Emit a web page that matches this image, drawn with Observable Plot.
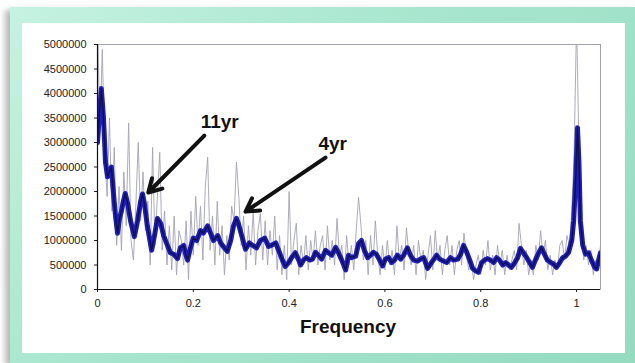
<!DOCTYPE html>
<html>
<head>
<meta charset="utf-8">
<script src="https://cdn.jsdelivr.net/npm/d3@7"></script>
<script src="https://cdn.jsdelivr.net/npm/@observablehq/plot@0.6"></script>
<style>
  html, body { margin: 0; padding: 0; background: #ffffff; }
  #page { position: relative; width: 635px; height: 363px; overflow: hidden; background: #fff; }
  #frame {
    position: absolute; left: 10px; top: 7px; width: 625px; height: 356px;
    background: linear-gradient(135deg, #c6f2e2 0%, #a9e7cf 40%, #94dbc0 100%);
    box-shadow: -5px 3px 6px rgba(0,0,0,0.28);
  }
  #inner { position: absolute; left: 22px; top: 23px; width: 603px; height: 330px; background: #fff; }
  #chart { position: absolute; left: 0; top: 0; }
  #xlabel {
    position: absolute; left: 0; width: 652px; top: 293px; text-align: center;
    font-family: "Liberation Sans", Arial, sans-serif; font-weight: bold; font-size: 19px; color: #111;
  }
</style>
</head>
<body>
<div id="page">
  <div id="frame"></div>
  <div id="inner"><div id="chart"></div><div id="xlabel">Frequency</div></div>
</div>
<script>
// Raw periodogram, regular frequency grid
const rawStart = 0;
const rawStep = 0.005;
const rawPowerM = [
  5.5, 3.2, 4.9, 2.8, 1.9, 3.5, 1.6, 2.9, 0.9, 2.1,
  0.8, 2.4, 1.3, 3.4, 1.0, 0.6, 1.7, 3.0, 1.4, 2.4,
  1.2, 1.8, 0.5, 2.9, 0.9, 1.9, 2.8, 0.8, 1.6, 0.5,
  1.3, 0.4, 1.5, 0.3, 1.2, 1.0, 0.5, 1.4, 0.2, 1.6,
  0.7, 1.9, 0.9, 1.7, 0.6, 2.1, 2.7, 0.8, 1.5, 0.5,
  1.8, 0.7, 1.3, 0.3, 1.1, 0.6, 1.7, 1.4, 2.6, 1.9,
  0.9, 1.5, 0.4, 1.3, 0.7, 1.6, 0.5, 1.2, 1.55, 0.6,
  1.4, 0.5, 1.2, 0.7, 1.5, 0.4, 1.1, 0.3, 0.9, 0.2,
  2.0, 0.5, 1.0, 1.35, 0.3, 0.9, 0.5, 1.1, 0.4, 1.0,
  0.6, 1.2, 0.5, 0.9, 1.1, 0.4, 1.3, 0.6, 1.0, 0.5,
  1.45, 0.7, 0.9, 0.2, 1.1, 0.5, 0.9, 0.4, 1.2, 1.88,
  1.3, 0.6, 1.0, 0.3, 1.1, 0.5, 1.4, 0.7, 0.3, 0.9,
  0.4, 1.0, 0.5, 0.8, 0.3, 1.3, 0.6, 0.9, 0.4, 1.26,
  0.7, 0.5, 0.9, 0.3, 1.0, 0.6, 0.8, 0.2, 0.7, 1.1,
  0.4, 1.2, 0.6, 0.9, 0.3, 0.8, 1.1, 0.5, 0.9, 0.3,
  0.8, 1.0, 0.5, 1.15, 0.7, 0.4, 0.6, 0.2, 0.5, 0.7,
  0.3, 0.8, 0.5, 1.0, 0.4, 0.7, 0.3, 0.9, 0.5, 0.8,
  0.3, 0.7, 0.4, 0.6, 0.8, 0.4, 1.35, 0.9, 0.5, 0.8,
  0.3, 0.6, 0.3, 0.9, 0.6, 1.2, 0.7, 1.0, 0.4, 0.7,
  0.3, 0.6, 0.4, 0.9, 1.0, 0.6, 1.1, 0.9, 1.6, 2.8,
  5.5, 2.9, 1.2, 0.6, 0.9, 0.5, 0.8, 0.3, 0.6, 0.4,
  0.9
];

// Smoothed spectrum
const smoothFreq = [
  0, 0.004, 0.008, 0.0125, 0.0167, 0.0209, 0.025, 0.029, 0.033, 0.0376,
  0.0418, 0.046, 0.050, 0.054, 0.058, 0.063, 0.069, 0.077, 0.0835, 0.090,
  0.094, 0.098, 0.104, 0.113, 0.119, 0.125, 0.132, 0.138, 0.146, 0.152,
  0.159, 0.167, 0.173, 0.180, 0.184, 0.188, 0.194, 0.200, 0.207, 0.215,
  0.221, 0.230, 0.236, 0.242, 0.251, 0.257, 0.265, 0.271, 0.278, 0.284,
  0.290, 0.294, 0.301, 0.309, 0.317, 0.324, 0.332, 0.340, 0.349, 0.357,
  0.363, 0.372, 0.380, 0.386, 0.392, 0.399, 0.405, 0.413, 0.420, 0.424,
  0.430, 0.436, 0.443, 0.449, 0.455, 0.461, 0.468, 0.476, 0.482, 0.489,
  0.497, 0.503, 0.509, 0.518, 0.524, 0.530, 0.539, 0.545, 0.551, 0.557,
  0.564, 0.570, 0.576, 0.582, 0.589, 0.595, 0.601, 0.608, 0.614, 0.620,
  0.626, 0.633, 0.639, 0.647, 0.653, 0.660, 0.668, 0.674, 0.681, 0.689,
  0.695, 0.701, 0.708, 0.714, 0.722, 0.729, 0.737, 0.743, 0.752, 0.758,
  0.764, 0.770, 0.777, 0.783, 0.789, 0.795, 0.802, 0.808, 0.814, 0.820,
  0.827, 0.833, 0.839, 0.846, 0.852, 0.858, 0.864, 0.871, 0.877, 0.883,
  0.889, 0.896, 0.902, 0.908, 0.914, 0.921, 0.927, 0.933, 0.939, 0.946,
  0.952, 0.958, 0.965, 0.971, 0.977, 0.983, 0.990, 0.994, 0.998, 1.002,
  1.005, 1.008, 1.013, 1.019, 1.025, 1.031, 1.038, 1.042, 1.046, 1.050
];
const smoothPowerM = [
  3.0, 3.6, 4.1, 3.5, 2.6, 2.3, 2.4, 2.5, 2.0, 1.5,
  1.15, 1.45, 1.6, 1.8, 1.96, 1.75, 1.4, 1.08, 1.4, 1.8,
  1.95, 1.75, 1.3, 0.8, 1.1, 1.45, 1.35, 1.1, 0.9, 0.75,
  0.72, 0.63, 0.85, 0.9, 0.72, 0.6, 0.85, 1.05, 1.0, 1.2,
  1.15, 1.3, 1.15, 1.0, 1.1, 0.95, 0.85, 0.78, 1.0, 1.3,
  1.45, 1.35, 1.1, 0.82, 0.95, 0.9, 0.85, 1.0, 1.05, 0.88,
  0.9, 0.95, 0.75, 0.6, 0.47, 0.55, 0.65, 0.75, 0.6, 0.5,
  0.6, 0.65, 0.6, 0.62, 0.76, 0.7, 0.62, 0.8, 0.75, 0.7,
  0.86, 0.75, 0.62, 0.4, 0.7, 0.65, 0.68, 0.94, 1.0, 0.8,
  0.65, 0.7, 0.76, 0.72, 0.6, 0.48, 0.62, 0.65, 0.55, 0.6,
  0.7, 0.62, 0.7, 0.85, 0.7, 0.6, 0.58, 0.62, 0.65, 0.43,
  0.52, 0.6, 0.7, 0.62, 0.58, 0.55, 0.65, 0.6, 0.62, 0.72,
  0.9, 0.78, 0.6, 0.43, 0.38, 0.35, 0.55, 0.6, 0.63, 0.6,
  0.55, 0.65, 0.6, 0.5, 0.55, 0.5, 0.45, 0.55, 0.65, 0.84,
  0.75, 0.65, 0.55, 0.45, 0.6, 0.75, 0.85, 0.72, 0.6, 0.55,
  0.52, 0.45, 0.55, 0.65, 0.68, 0.75, 1.0, 1.4, 2.2, 3.3,
  2.6, 1.4, 0.9, 0.72, 0.75, 0.6, 0.45, 0.42, 0.6, 0.75
];

const xTicks = [0, 0.2, 0.4, 0.6, 0.8, 1];
const yTicks = [0, 500000, 1000000, 1500000, 2000000, 2500000, 3000000, 3500000, 4000000, 4500000, 5000000];

const labelText = ["11yr", "4yr"];
const labelFreq = [0.255, 0.491];
const labelPowerM = [3.43, 2.98];
const arrowFromFreq = [0.223, 0.476];
const arrowFromPowerM = [3.14, 2.69];
const arrowToFreq = [0.106, 0.309];
const arrowToPowerM = [1.98, 1.59];

const M = 1e6;
const raw = rawPowerM.map((p, i) => ({f: rawStart + i * rawStep, p: p * M}));
const smooth = smoothFreq.map((f, i) => ({f, p: smoothPowerM[i] * M}));
const labels = labelText.map((t, i) => ({t, f: labelFreq[i], p: labelPowerM[i] * M}));
const arrows = arrowFromFreq.map((f, i) => ({
  x1: f, y1: arrowFromPowerM[i] * M, x2: arrowToFreq[i], y2: arrowToPowerM[i] * M
}));

const chart = Plot.plot({
  width: 603,
  height: 330,
  marginLeft: 75,
  marginRight: 25,
  marginTop: 21,
  marginBottom: 64,
  style: {fontFamily: "'Liberation Sans', Arial, sans-serif", fontSize: "11px", color: "#222", background: "transparent"},
  x: {domain: [0, 1.05], ticks: xTicks, tickFormat: d => String(d), tickSize: 3, tickPadding: 7, label: null},
  y: {domain: [0, 5000000], ticks: yTicks, tickFormat: d => String(d), tickSize: 3, tickPadding: 8, label: null},
  marks: [
    Plot.frame({stroke: "#8a8a9a", strokeWidth: 0.8}),
    Plot.line(raw, {x: "f", y: "p", stroke: "#a3a3b6", strokeWidth: 0.9, clip: true}),
    Plot.line(smooth, {x: "f", y: "p", stroke: "#1e1eb8", strokeWidth: 5, curve: "linear", clip: true}),
    Plot.line(smooth, {x: "f", y: "p", stroke: "#0a0a30", strokeWidth: 1.4, strokeOpacity: 0.75, clip: true}),
    Plot.ruleY([0], {stroke: "#111", strokeWidth: 1.2}),
    Plot.ruleX([0], {stroke: "#111", strokeWidth: 1.2}),
    Plot.arrow(arrows, {x1: "x1", y1: "y1", x2: "x2", y2: "y2", stroke: "#111", strokeWidth: 4, headLength: 5.5, headAngle: 60}),
    Plot.text(labels, {x: "f", y: "p", text: "t", fontSize: 19, fontWeight: "bold", fill: "#111"})
  ]
});
document.getElementById("chart").appendChild(chart);
</script>
</body>
</html>
